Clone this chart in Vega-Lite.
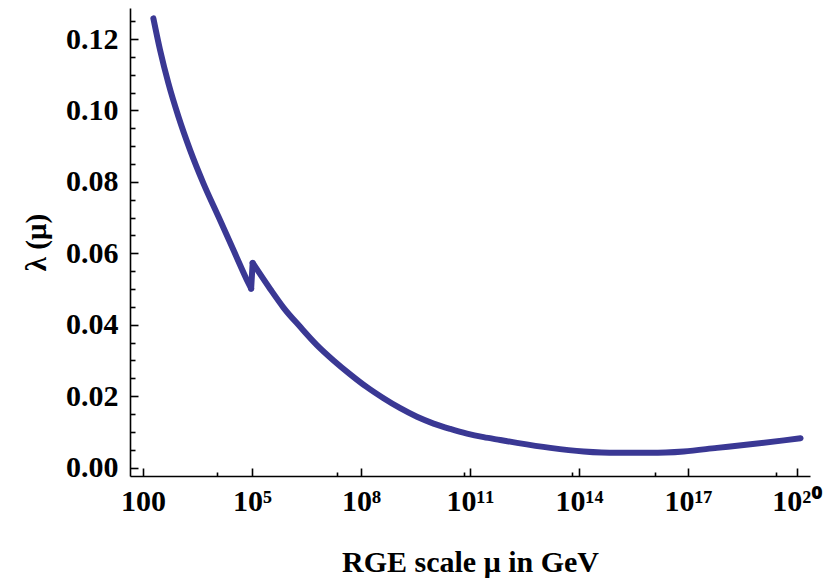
{
  "$schema": "https://vega.github.io/schema/vega-lite/v6.json",
  "width": 680,
  "height": 468,
  "autosize": {"type": "none"},
  "padding": {"left": 130, "top": 8, "right": 19, "bottom": 107},
  "background": "white",
  "config": {
    "view": {"stroke": null},
    "axis": {
      "labelFont": "Liberation Serif, Noto Sans",
      "labelFontWeight": "bold",
      "labelFontSize": 30,
      "labelColor": "black",
      "titleFont": "Liberation Serif",
      "titleFontWeight": "bold",
      "titleColor": "black",
      "domainColor": "black",
      "domainWidth": 1.6,
      "tickColor": "black",
      "tickWidth": 1.6,
      "grid": false
    }
  },
  "data": {
    "values": [
      {"segment": "A", "mu": 192, "lambda": 0.1258},
      {"segment": "A", "mu": 294, "lambda": 0.1169},
      {"segment": "A", "mu": 498, "lambda": 0.1076},
      {"segment": "A", "mu": 938, "lambda": 0.0983},
      {"segment": "A", "mu": 1972, "lambda": 0.0889},
      {"segment": "A", "mu": 4581, "lambda": 0.0796},
      {"segment": "A", "mu": 11858, "lambda": 0.0703},
      {"segment": "A", "mu": 30761, "lambda": 0.0609},
      {"segment": "A", "mu": 79616, "lambda": 0.0516},
      {"segment": "A", "mu": 94406, "lambda": 0.0501},
      {"segment": "J", "mu": 94406, "lambda": 0.0501},
      {"segment": "J", "mu": 103992, "lambda": 0.0573},
      {"segment": "B", "mu": 103992, "lambda": 0.0573},
      {"segment": "B", "mu": 315500, "lambda": 0.0500},
      {"segment": "B", "mu": 732800, "lambda": 0.0448},
      {"segment": "B", "mu": 2113000, "lambda": 0.0394},
      {"segment": "B", "mu": 6095000, "lambda": 0.0343},
      {"segment": "B", "mu": 17500000, "lambda": 0.0300},
      {"segment": "B", "mu": 50350000, "lambda": 0.0261},
      {"segment": "B", "mu": 145550000, "lambda": 0.0225},
      {"segment": "B", "mu": 416900000, "lambda": 0.0194},
      {"segment": "B", "mu": 1202000000, "lambda": 0.0166},
      {"segment": "B", "mu": 3467000000, "lambda": 0.0142},
      {"segment": "B", "mu": 9931000000, "lambda": 0.0123},
      {"segment": "B", "mu": 28640000000, "lambda": 0.0108},
      {"segment": "B", "mu": 82600000000, "lambda": 0.0095},
      {"segment": "B", "mu": 237100000000, "lambda": 0.0085},
      {"segment": "B", "mu": 683900000000, "lambda": 0.0077},
      {"segment": "B", "mu": 1972000000000, "lambda": 0.0069},
      {"segment": "B", "mu": 16290000000000, "lambda": 0.0055},
      {"segment": "B", "mu": 134900000000000, "lambda": 0.0045},
      {"segment": "B", "mu": 1122000000000000, "lambda": 0.0041},
      {"segment": "B", "mu": 9268000000000000, "lambda": 0.0041},
      {"segment": "B", "mu": 76560000000000000, "lambda": 0.0045},
      {"segment": "B", "mu": 631000000000000000, "lambda": 0.0055},
      {"segment": "B", "mu": 5248000000000000000, "lambda": 0.0065},
      {"segment": "B", "mu": 43650000000000000000, "lambda": 0.0076},
      {"segment": "B", "mu": 125900000000000000000, "lambda": 0.0082}
    ]
  },
  "mark": {"type": "line", "color": "#3a3894", "strokeWidth": 6, "interpolate": "monotone", "strokeCap": "round", "strokeJoin": "miter"},
  "encoding": {
    "detail": {"field": "segment", "type": "nominal"},
    "x": {
      "field": "mu",
      "type": "quantitative",
      "scale": {"type": "log", "domain": [43.65, 2.29e20], "nice": false},
      "axis": {
        "title": "RGE scale μ in GeV",
        "titleFontSize": 30,
        "titlePadding": 27,
        "values": [100, 11000, 100000, 22000000, 100000000, 70000000000, 100000000000, 65000000000000, 100000000000000, 12500000000000000, 100000000000000000, 26000000000000000000, 100000000000000000000],
        "labelExpr": "datum.value == 100 ? '100' : datum.value == 1e5 ? '10⁵' : datum.value == 1e8 ? '10⁸' : datum.value == 1e11 ? '10¹¹' : datum.value == 1e14 ? '10¹⁴' : datum.value == 1e17 ? '10¹⁷' : datum.value == 1e20 ? '10²⁰' : ''",
        "tickSize": {"condition": {"test": "abs(log(datum.value)/LN10 - round(log(datum.value)/LN10)) < 0.001 && (round(log(datum.value)/LN10) - 2) % 3 == 0", "value": -8}, "value": -4},
        "labelPadding": 18,
        "labelFlush": false,
        "labelOverlap": false
      }
    },
    "y": {
      "field": "lambda",
      "type": "quantitative",
      "scale": {"domain": [-0.00238, 0.1287], "nice": false, "zero": false},
      "axis": {
        "title": "λ (μ)",
        "titleFontSize": 29,
        "titlePadding": 14,
        "values": [0, 0.005, 0.01, 0.015, 0.02, 0.025, 0.03, 0.035, 0.04, 0.045, 0.05, 0.055, 0.06, 0.065, 0.07, 0.075, 0.08, 0.085, 0.09, 0.095, 0.1, 0.105, 0.11, 0.115, 0.12, 0.125],
        "labelExpr": "abs(datum.value*50 - round(datum.value*50)) < 1e-6 ? format(datum.value, '.2f') : ''",
        "tickSize": {"condition": {"test": "abs(datum.value*50 - round(datum.value*50)) < 1e-6", "value": -8}, "value": -5},
        "labelPadding": 20,
        "labelFlush": false,
        "labelOverlap": false
      }
    }
  }
}
